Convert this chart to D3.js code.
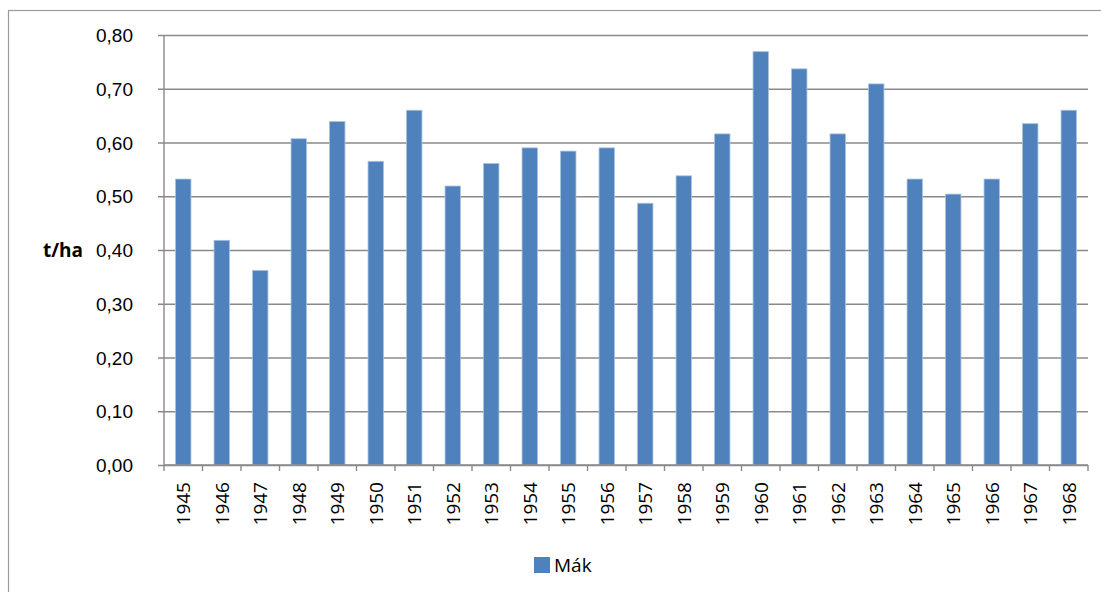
<!DOCTYPE html>
<html>
<head>
<meta charset="utf-8">
<script src="https://cdn.jsdelivr.net/npm/d3@7"></script>
<style>
  body { margin: 0; background: #fff; }
  svg { display: block; font-family: "Open Sans", "Liberation Sans", sans-serif; }
</style>
</head>
<body>
<div id="chart"></div>
<script>
const width = 1101;
const height = 592;
const margin = ({ top: 35, right: 13, bottom: 127, left: 164 });

// data
const years = ["1945", "1946", "1947", "1948", "1949", "1950", "1951", "1952", "1953", "1954", "1955", "1956",
	"1957", "1958", "1959", "1960", "1961", "1962", "1963", "1964", "1965", "1966", "1967", "1968"];
const mak = [0.532, 0.418, 0.362, 0.607, 0.639, 0.565, 0.660, 0.519, 0.561, 0.590, 0.584, 0.590,
	0.487, 0.538, 0.616, 0.769, 0.737, 0.616, 0.709, 0.532, 0.504, 0.532, 0.635, 0.660];
const yTicks = [0, 0.1, 0.2, 0.3, 0.4, 0.5, 0.6, 0.7, 0.8];
const seriesName = "Mák";
const yLabel = "t/ha";

const barColor = "#4f81bd";
const gridColor = "#8a8a8a";
const fontSize = 19;

const svg = d3.select("#chart")
	.append("svg")
	.attr("width", width)
	.attr("height", height);

// outer chart frame (cut off at right and bottom like the source)
svg.append("rect")
	.attr("x", 8.5)
	.attr("y", 10.5)
	.attr("width", width + 20)
	.attr("height", height + 20)
	.attr("fill", "none")
	.attr("stroke", "#9a9a9a")
	.attr("stroke-width", 1.2);

let x = d3.scaleBand()
	.domain(years)
	.range([margin.left, width - margin.right])
	.paddingInner(0.6)
	.paddingOuter(0.3);

let y = d3.scaleLinear()
	.domain([0, 0.8])
	.range([height - margin.bottom, margin.top]);

const fmt = d => d3.format(".2f")(d).replace(".", ",");

// gridlines + y axis
const yAxis = g => g
	.attr("transform", `translate(${margin.left},0)`)
	.call(d3.axisLeft(y)
		.tickValues(yTicks)
		.tickFormat(fmt)
		.tickSize(-(width - margin.right - margin.left))
		.tickPadding(0))
	.call(g => g.select(".domain").remove())
	.call(g => g.selectAll(".tick line")
		.attr("x1", -6)
		.attr("stroke", gridColor)
		.attr("stroke-width", 1.4))
	.call(g => g.selectAll(".tick text")
		.attr("x", -31)
		.attr("dy", "0.35em")
		.attr("fill", "#000")
		.attr("font-size", fontSize));

svg.append("g").call(yAxis);

// vertical axis line
svg.append("line")
	.attr("x1", margin.left).attr("x2", margin.left)
	.attr("y1", y(0.8)).attr("y2", y(0))
	.attr("stroke", gridColor)
	.attr("stroke-width", 1.4);

// bars
svg.append("g")
	.selectAll("rect")
	.data(years)
	.enter()
	.append("rect")
	.attr("x", d => x(d))
	.attr("y", (d, i) => y(mak[i]))
	.attr("width", x.bandwidth())
	.attr("height", (d, i) => y(0) - y(mak[i]))
	.attr("fill", barColor)
	.attr("stroke", "#a9c1de")
	.attr("stroke-width", 0.8);

// x axis: ticks between categories
const step = x.step();
const boundaries = d3.range(years.length + 1).map(i => margin.left + i * step);

const xg = svg.append("g");
xg.append("line")
	.attr("x1", margin.left).attr("x2", width - margin.right)
	.attr("y1", y(0)).attr("y2", y(0))
	.attr("stroke", gridColor)
	.attr("stroke-width", 1.4);
xg.selectAll(".xtick")
	.data(boundaries)
	.enter()
	.append("line")
	.attr("class", "xtick")
	.attr("x1", d => d).attr("x2", d => d)
	.attr("y1", y(0)).attr("y2", y(0) + 6)
	.attr("stroke", gridColor)
	.attr("stroke-width", 1.4);

xg.selectAll(".xlabel")
	.data(years)
	.enter()
	.append("text")
	.attr("class", "xlabel")
	.attr("transform", d => `translate(${x(d) + x.bandwidth() / 2 + 7},${y(0) + 17}) rotate(-90)`)
	.attr("text-anchor", "end")
	.attr("font-size", fontSize)
	.attr("fill", "#000")
	.text(d => d);

// y axis title
svg.append("text")
	.attr("x", 83)
	.attr("y", y(0.4) + 7)
	.attr("text-anchor", "end")
	.attr("font-size", fontSize)
	.attr("font-weight", "bold")
	.attr("fill", "#000")
	.text(yLabel);

// legend
const legend = svg.append("g").attr("transform", "translate(534,557)");
legend.append("rect")
	.attr("width", 16)
	.attr("height", 16)
	.attr("fill", barColor);
legend.append("text")
	.attr("x", 20)
	.attr("y", 15)
	.attr("font-size", fontSize)
	.attr("fill", "#000")
	.text(seriesName);
</script>
</body>
</html>
